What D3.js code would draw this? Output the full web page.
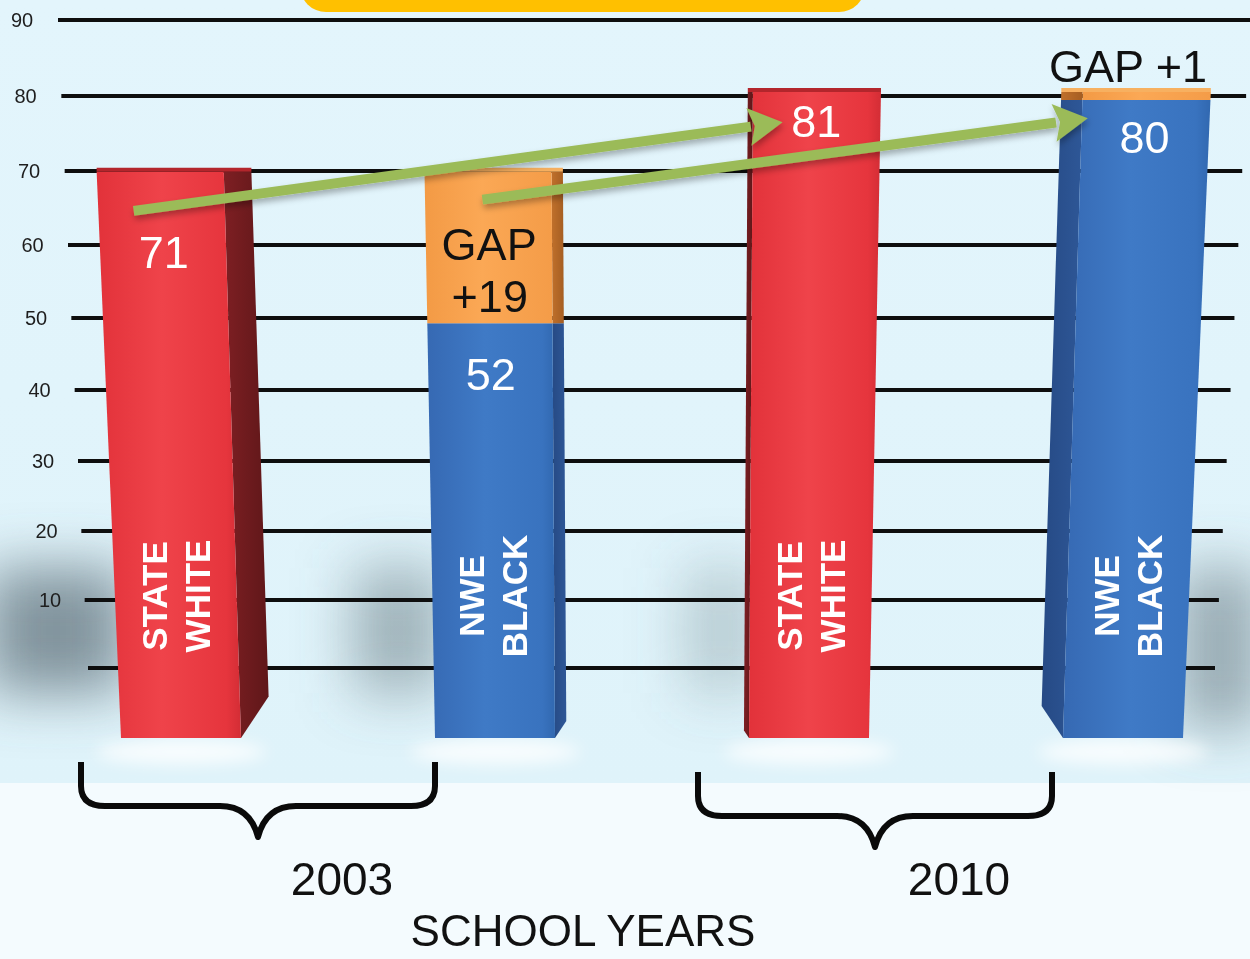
<!DOCTYPE html>
<html>
<head>
<meta charset="utf-8">
<script src="https://cdn.jsdelivr.net/npm/d3@7"></script>
<style>
    body { margin: 0; background: #f4fbfe; }
    svg { display: block; font-family: "Liberation Sans", Arial, sans-serif; }
</style>
</head>
<body>
<svg id="chart" width="1250" height="959"></svg>
<script>
"use strict";

// ---- data ----
const barYears = ["2003", "2003", "2010", "2010"];
const barGroups = ["STATE WHITE", "NWE BLACK", "STATE WHITE", "NWE BLACK"];
const baseValues = [71, 52, 81, 80];
const gapValues = [0, 19, 0, 1];
const valueLabels = ["71", "52", "81", "80"];
const gapLabels = [null, ["GAP", "+19"], null, ["GAP +1"]];
const gridTicks = [0, 10, 20, 30, 40, 50, 60, 70, 80, 90];
const tickLabels = ["", "10", "20", "30", "40", "50", "60", "70", "80", "90"];
const yearLabels = ["2003", "2010"];
const axisTitle = "SCHOOL YEARS";
// trend arrows: from a point on one bar to a point on another (bar index, value)
const arrows = [
    {from: 0, fromValue: 66.1, to: 2, toValue: 77.2},
    {from: 1, fromValue: 67.5, to: 3, toValue: 77.7},
];

const W = 1250, H = 959;
const svg = d3.select("#chart");
const defs = svg.append("defs");

// ---- scales ----
const floorY = 738;
const totals = baseValues.map((v, i) => v + gapValues[i]);
const barY = d3.scaleLinear().domain([0, d3.max(totals)]).range([floorY, 92]);
const xBottom = d3.scalePoint().domain(d3.range(baseValues.length)).range([181, 1123]);
const vpX = d3.mean(xBottom.range());
const lean = 7.8e-5;
// grid lines sit on the back wall, slightly foreshortened
const gridBase = d3.scaleLinear().domain([0, 90]).range([668, 20]);
const gridY = v => gridBase(v) + 0.005 * v * (90 - v);

const xAt = (i, y) => xBottom(i) + (xBottom(i) - vpX) * lean * (floorY - y);
const halfW = y => 60 * (1 + 1.05e-4 * (floorY - y));
const sideDepth = i => -(xBottom(i) - (vpX + 60)) * 0.052;

// ---- gradients & filters ----
function hGrad(id, stops) {
    const g = defs.append("linearGradient").attr("id", id)
        .attr("x1", 0).attr("x2", 1).attr("y1", 0).attr("y2", 0);
    stops.forEach(([o, c]) => g.append("stop").attr("offset", o).attr("stop-color", c));
}
hGrad("red-front", [[0, "#e2323a"], [0.45, "#ef434a"], [0.9, "#e6353d"], [1, "#d32d35"]]);
hGrad("blue-front", [[0, "#3669b3"], [0.45, "#3f7ac6"], [0.9, "#3973bf"], [1, "#3168b0"]]);
hGrad("orange-front", [[0, "#f39a45"], [0.45, "#fba855"], [1, "#f49c48"]]);
hGrad("red-side", [[0, "#7e1f23"], [1, "#5f1719"]]);
hGrad("blue-side", [[0, "#264a85"], [1, "#2e5797"]]);
hGrad("orange-side", [[0, "#c0702b"], [1, "#a55e22"]]);

const wallGrad = defs.append("linearGradient").attr("id", "wall")
    .attr("x1", 0).attr("x2", 0).attr("y1", 0).attr("y2", 1);
wallGrad.append("stop").attr("offset", 0).attr("stop-color", "#e3f5fc");
wallGrad.append("stop").attr("offset", 1).attr("stop-color", "#dff3fa");

defs.append("filter").attr("id", "blur-big").attr("x", "-100%").attr("y", "-100%")
    .attr("width", "300%").attr("height", "300%")
    .append("feGaussianBlur").attr("stdDeviation", 28);
defs.append("filter").attr("id", "blur-small").attr("x", "-50%").attr("y", "-50%")
    .attr("width", "200%").attr("height", "200%")
    .append("feGaussianBlur").attr("stdDeviation", 8);
const ds = defs.append("filter").attr("id", "arrow-shadow").attr("x", "-10%").attr("y", "-50%")
    .attr("width", "120%").attr("height", "200%");
ds.append("feDropShadow").attr("dx", 1).attr("dy", 4).attr("stdDeviation", 3)
    .attr("flood-color", "#000").attr("flood-opacity", 0.3);

// ---- background ----
svg.append("rect").attr("width", W).attr("height", H).attr("fill", "#f4fbfe");
svg.append("rect").attr("width", W).attr("height", 783).attr("fill", "url(#wall)");

// header box (cut off at the top)
svg.append("rect").attr("x", 300).attr("y", -40).attr("width", 565).attr("height", 52)
    .attr("rx", 26).attr("fill", "#ffc000");

// ---- shadows on the wall ----
const shadowG = svg.append("g").attr("filter", "url(#blur-big)");
baseValues.forEach((v, i) => {
    const onRight = sideDepth(i) < -15;
    const left = xAt(i, 630) - halfW(630);
    const right = xAt(i, 630) + halfW(630);
    const reach = [130, 80, 65, 75][i];
    const strength = [0.72, 0.5, 0.3, 0.55][i];
    shadowG.append("rect")
        .attr("x", onRight ? right - 10 : left - reach)
        .attr("y", 568)
        .attr("width", reach + 10)
        .attr("height", onRight ? 160 : 125)
        .attr("fill", "#5d6f78")
        .attr("opacity", strength);
});

// ---- grid lines ----
svg.append("g").selectAll("line").data(gridTicks).join("line")
    .attr("x1", d => 88 - d / 90 * 30)
    .attr("x2", d => 1215 + d / 90 * 35)
    .attr("y1", d => gridY(d))
    .attr("y2", d => gridY(d))
    .attr("stroke", "#0e0e0e")
    .attr("stroke-width", 4);

svg.append("g").selectAll("text").data(gridTicks).join("text")
    .attr("x", d => 50 - (d - 10) * 0.35)
    .attr("y", d => gridY(d))
    .attr("dy", "0.36em")
    .attr("text-anchor", "middle")
    .attr("font-size", 20)
    .attr("fill", "#1e1e1e")
    .text((d, i) => tickLabels[i]);

// soft floor glow under the bars
const glowG = svg.append("g").attr("filter", "url(#blur-small)");
baseValues.forEach((v, i) => {
    glowG.append("ellipse").attr("cx", xAt(i, floorY)).attr("cy", floorY + 14)
        .attr("rx", 85).attr("ry", 12).attr("fill", "#ffffff").attr("opacity", 0.8);
});

// ---- bars ----
const pts = p => p.map(q => q.join(",")).join(" ");

function drawSegment(g, i, v0, v1, kind, isBottom, isTop) {
    const y1 = barY(v1), y2 = barY(v0);
    const d = sideDepth(i);
    const xl1 = xAt(i, y1) - halfW(y1), xr1 = xAt(i, y1) + halfW(y1);
    const xl2 = xAt(i, y2) - halfW(y2), xr2 = xAt(i, y2) + halfW(y2);
    const chamfer = isBottom ? Math.abs(d) * 1.5 : 0;

    // side face
    const e1 = d > 0 ? xr1 : xl1, e2 = d > 0 ? xr2 : xl2;
    g.append("polygon")
        .attr("points", pts([[e1, y1], [e1 + d, y1], [e2 + d, y2 - chamfer], [e2, y2]]))
        .attr("fill", `url(#${kind}-side)`);

    // front face
    g.append("polygon")
        .attr("points", pts([[xl1, y1], [xr1, y1], [xr2, y2], [xl2, y2]]))
        .attr("fill", `url(#${kind}-front)`);

    if (isTop) {
        const topColor = {red: "#b3262c", blue: "#2c5a9c", orange: "#f7b060"}[kind];
        const lo = Math.min(0, d), hi = Math.max(0, d);
        g.append("polygon")
            .attr("points", pts([[xl1 + lo, y1 - 4], [xr1 + hi, y1 - 4], [xr1 + hi, y1], [xl1 + lo, y1]]))
            .attr("fill", topColor);
    }
}

const barsG = svg.append("g");
baseValues.forEach((v, i) => {
    const g = barsG.append("g");
    const kind = barGroups[i] === "STATE WHITE" ? "red" : "blue";
    const gap = gapValues[i];
    drawSegment(g, i, 0, v, kind, true, gap === 0);
    if (gap > 0) drawSegment(g, i, v, v + gap, "orange", false, true);
});

// ---- rotated group labels inside bars ----
const labelMidY = 596;
barGroups.forEach((name, i) => {
    const words = name.split(" ");
    const cx = xAt(i, labelMidY);
    words.forEach((w, k) => {
        svg.append("text")
            .attr("transform", `translate(${cx + (k - (words.length - 1) / 2) * 43},${labelMidY}) rotate(-90)`)
            .attr("text-anchor", "middle")
            .attr("dy", "0.36em")
            .attr("font-size", 35)
            .attr("font-weight", "bold")
            .attr("fill", "#ffffff")
            .text(w);
    });
});

// ---- trend arrows ----
const arrowStartDx = [-28, -6];
const arrowEndDx = [-34, -58];
const arrowG = svg.append("g").attr("filter", "url(#arrow-shadow)");
arrows.forEach((a, k) => {
    const ys = barY(a.fromValue), ye = barY(a.toValue);
    const xs = xAt(a.from, ys) + arrowStartDx[k];
    const xe = xAt(a.to, ye) + arrowEndDx[k];
    const ang = Math.atan2(ye - ys, xe - xs);
    const headLen = 34, headHalf = 19;
    const bx = xe - headLen * Math.cos(ang), by = ye - headLen * Math.sin(ang);
    const nx = -Math.sin(ang), ny = Math.cos(ang);
    arrowG.append("line")
        .attr("x1", xs).attr("y1", ys).attr("x2", bx + 2 * Math.cos(ang)).attr("y2", by + 2 * Math.sin(ang))
        .attr("stroke", "#9bbb59").attr("stroke-width", 10);
    arrowG.append("polygon")
        .attr("points", pts([[xe, ye], [bx + nx * headHalf, by + ny * headHalf], [bx + 6 * Math.cos(ang), by + 6 * Math.sin(ang)], [bx - nx * headHalf, by - ny * headHalf]]))
        .attr("fill", "#9bbb59");
});

// ---- value labels ----
const valueDrop = [96, 67, 45, 53];
valueLabels.forEach((t, i) => {
    const y = barY(baseValues[i]) + valueDrop[i];
    svg.append("text")
        .attr("x", xAt(i, y)).attr("y", y)
        .attr("text-anchor", "middle")
        .attr("font-size", 45)
        .attr("fill", "#ffffff")
        .text(t);
});

gapLabels.forEach((lines, i) => {
    if (!lines) return;
    const top = barY(totals[i]);
    const segH = barY(baseValues[i]) - top;
    if (segH > 60) {
        lines.forEach((t, k) => {
            const y = top + 88 + k * 52;
            svg.append("text")
                .attr("x", xAt(i, y)).attr("y", y)
                .attr("text-anchor", "middle")
                .attr("font-size", 45)
                .attr("fill", "#111111")
                .text(t);
        });
    } else {
        const y = top - 10;
        svg.append("text")
            .attr("x", xAt(i, y) - 19).attr("y", y)
            .attr("text-anchor", "middle")
            .attr("font-size", 45)
            .attr("fill", "#111111")
            .text(lines.join(" "));
    }
});

// ---- year brackets ----
yearLabels.forEach((yr, g) => {
    const idx = d3.range(barYears.length).filter(i => barYears[i] === yr);
    const mid = d3.mean(idx, i => xBottom(i));
    const xm = mid - 80 - g * 11, xL = xm - 177, xR = xm + 177;
    const yT = 762 + g * 10;
    const path = `M${xL},${yT} L${xL},${yT + 24} Q${xL},${yT + 44} ${xL + 24},${yT + 44}
        L${xm - 38},${yT + 44} Q${xm - 8},${yT + 44} ${xm},${yT + 75}
        Q${xm + 8},${yT + 44} ${xm + 38},${yT + 44} L${xR - 24},${yT + 44}
        Q${xR},${yT + 44} ${xR},${yT + 24} L${xR},${yT}`;
    svg.append("path").attr("d", path)
        .attr("fill", "none").attr("stroke", "#0a0a0a").attr("stroke-width", 6)
        .attr("stroke-linejoin", "round");
    svg.append("text")
        .attr("x", xm + 84).attr("y", 895)
        .attr("text-anchor", "middle")
        .attr("font-size", 46)
        .attr("fill", "#111111")
        .text(yr);
});

svg.append("text")
    .attr("x", 583).attr("y", 946)
    .attr("text-anchor", "middle")
    .attr("font-size", 44)
    .attr("fill", "#111111")
    .text(axisTitle);
</script>
</body>
</html>
